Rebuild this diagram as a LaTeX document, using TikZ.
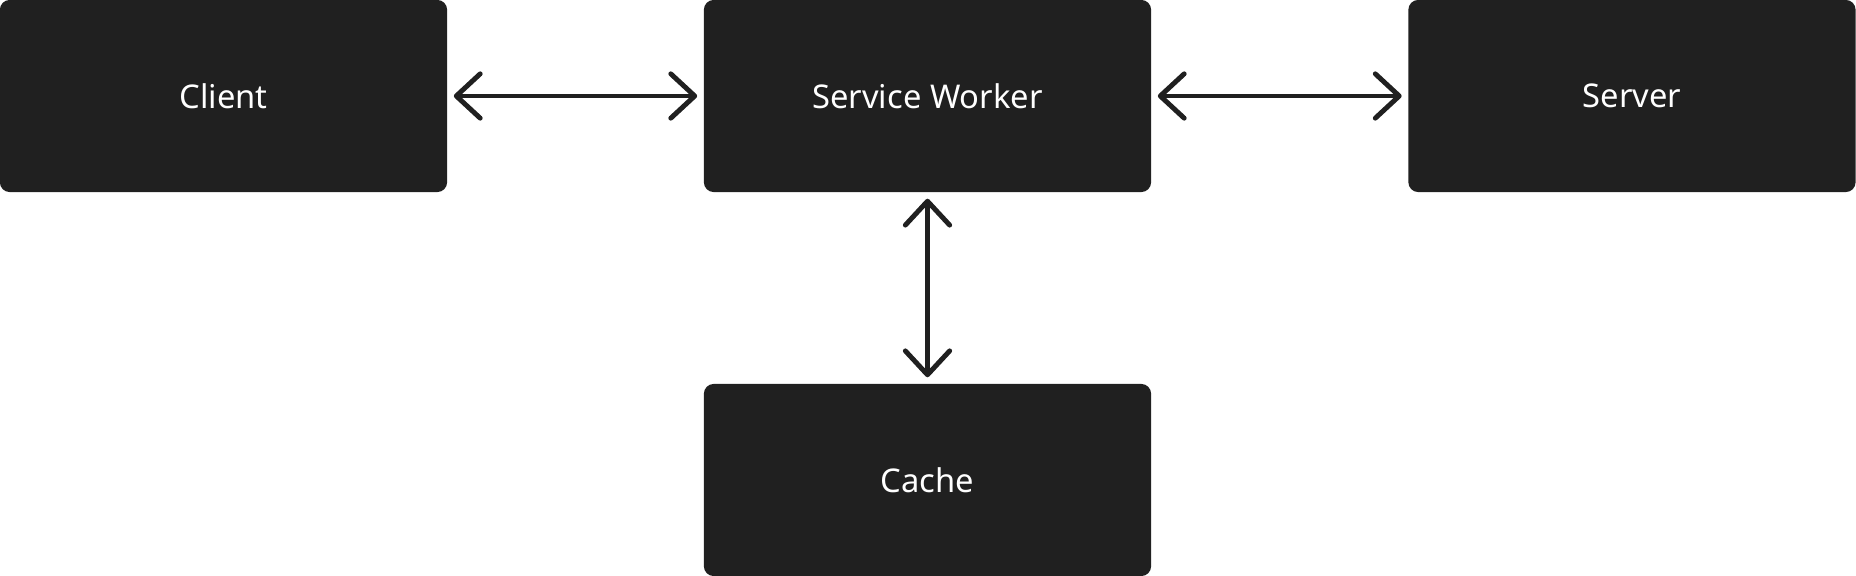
\documentclass[tikz,border=0pt]{standalone}
\usepackage{fontspec}
\setmainfont{Noto Sans}
\usetikzlibrary{arrows.meta}
\definecolor{boxgray}{HTML}{202020}
\begin{document}
\begin{tikzpicture}[x=0.01cm,y=-0.01cm,>={Straight Barb[round,length=6.8pt,width=12.6pt]},shorten >=1.7pt,shorten <=1.7pt,<->]
    \tikzstyle{block}=[rectangle,rounded corners=2.8pt,fill=boxgray,text=white,minimum width=4.47cm,minimum height=1.92cm,inner sep=0pt,font=\fontsize{9.3}{11}\selectfont]
    \tikzstyle{link}=[draw=boxgray,line width=1.4pt,line cap=round,line join=round]
    \useasboundingbox (0,0) rectangle (1856,576);
    \node[block] (client) at (223.5,96) {Client};
    \node[block] (worker) at (927.5,96) {Service Worker};
    \node[block] (server) at (1632,96) {Server};
    \node[block] (cache) at (927.5,480) {Cache};
    \draw [link] (client) -- (worker);
    \draw [link] (worker) -- (server);
    \draw [link] (worker) -- (cache);
  \end{tikzpicture}
\end{document}
